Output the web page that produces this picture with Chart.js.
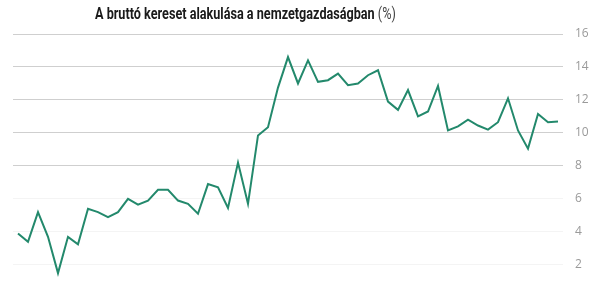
<!DOCTYPE html>
<html>
<head>
<meta charset="utf-8">
<script src="https://cdn.jsdelivr.net/npm/chart.js@4"></script>
<style>
    html, body { margin: 0; padding: 0; background: #fff; overflow: hidden; }
    #wrap { position: relative; width: 598px; height: 291px; }
    #cim {
        position: absolute; top: 4px; left: 95px; white-space: nowrap;
        transform-origin: 0 0; transform: scaleX(0.79);
        font-family: Roboto, sans-serif;
        font-weight: bold; font-size: 16px; color: #1a1a1a;
    }
    #cim span { font-weight: normal; color: #444; }
    canvas { display: block; }
</style>
</head>
<body>
<div id="wrap">
    <div id="cim">A bruttó kereset alakulása a nemzetgazdaságban <span>(%)</span></div>
    <canvas id="grafikon" width="598" height="291"></canvas>
</div>
<script>
// havi adatok, időszak-címkék nincsenek a képen
let ertekek = [3.9, 3.4, 5.2, 3.7, 1.5, 3.7, 3.25, 5.4, 5.2, 4.9,
               5.2, 6.0, 5.65, 5.9, 6.55, 6.55, 5.9, 5.7, 5.1, 6.9,
               6.7, 5.45, 8.2, 5.7, 9.85, 10.35, 12.75, 14.6, 13.0, 14.4,
               13.1, 13.2, 13.6, 12.9, 13.0, 13.5, 13.8, 11.9, 11.4, 12.6,
               11.0, 11.3, 12.85, 10.15, 10.4, 10.8, 10.45, 10.2, 10.65, 12.1,
               10.15, 9.05, 11.15, 10.65, 10.7];
let honapok = ertekek.map((v, i) => String(i + 1));
let yTickek = [2, 4, 6, 8, 10, 12, 14, 16];

const ctx = document.getElementById("grafikon");
new Chart(ctx, {
    type: "line",
    data: {
        labels: honapok,
        datasets: [{
            data: ertekek,
            borderColor: "#23896c",
            borderWidth: 2,
            pointRadius: 0,
            tension: 0,
            fill: false,
            clip: false
        }]
    },
    options: {
        responsive: false,
        animation: false,
        layout: { padding: { left: 13, top: 34, bottom: 0, right: 0 } },
        plugins: {
            legend: { display: false },
            tooltip: { enabled: false }
        },
        scales: {
            x: {
                display: false,
                offset: true
            },
            y: {
                position: "right",
                min: 1.58,
                max: 16,
                afterBuildTicks: (axis) => {
                    axis.ticks = yTickek.map(v => ({ value: v }));
                },
                afterFit: (scale) => { scale.width = 35; },
                border: { display: false },
                grid: {
                    drawTicks: false,
                    color: (c) => c.tick && c.tick.value >= 8 ? "#cfcfcf" : "#f4f4f4"
                },
                ticks: {
                    padding: 12,
                    color: "#9a9a9a",
                    font: { family: "Open Sans", size: 12 }
                }
            }
        }
    }
});
</script>
</body>
</html>
